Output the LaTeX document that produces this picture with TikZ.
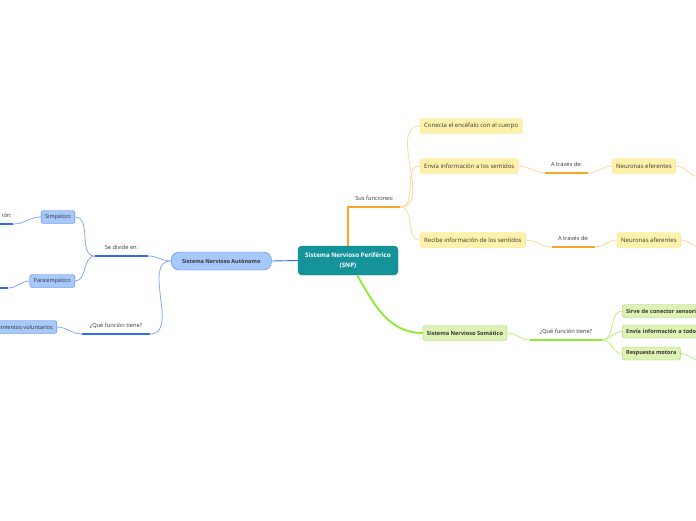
\documentclass[tikz,border=0pt]{standalone}
\usepackage{fontspec}
\setmainfont{Open Sans}
\usepackage{xcolor}
\usetikzlibrary{positioning,calc}

\definecolor{teal1}{HTML}{15939B}
\definecolor{teal2}{HTML}{0E7E86}
\definecolor{ylwf}{HTML}{FEF2AA}
\definecolor{ylwd}{HTML}{F7E08C}
\definecolor{orgk}{HTML}{F6A52A}
\definecolor{orgn}{HTML}{FCD69C}
\definecolor{bluf}{HTML}{A6C8FA}
\definecolor{blud}{HTML}{4F80E2}
\definecolor{bluk}{HTML}{2F6CF0}
\definecolor{blun}{HTML}{86A8F2}
\definecolor{grnf}{HTML}{DDF2B3}
\definecolor{grnd}{HTML}{A8D46A}
\definecolor{grnk}{HTML}{8CEB2B}
\definecolor{grnn}{HTML}{B8F07A}

\begin{document}
\begin{tikzpicture}[x=1pt,y=-1pt]
\tikzset{
  root/.style={rectangle,rounded corners=4pt,draw=teal2,fill=teal1,text=white,minimum width=100pt,minimum height=29pt,align=center,font=\fontsize{6.2}{10}\selectfont\bfseries},
  ynode/.style={rectangle,rounded corners=2.5pt,draw=ylwd,fill=ylwf,minimum height=15pt,inner xsep=4pt,font=\fontsize{6}{7}\selectfont,text=black!80},
  bnode/.style={rectangle,rounded corners=2.5pt,draw=blud,fill=bluf,minimum height=13pt,inner xsep=4pt,font=\fontsize{5.6}{6}\selectfont,text=black!80},
  gnode/.style={rectangle,rounded corners=2.5pt,draw=grnd,fill=grnf,minimum height=13pt,inner xsep=4pt,font=\fontsize{5.5}{6}\selectfont\bfseries,text=black!80},
  lbl/.style={anchor=south,inner xsep=0pt,inner ysep=5pt,text height=4pt,text depth=1pt,font=\fontsize{5.7}{6}\selectfont,text=black!80},
  othk/.style={draw=orgk,line width=1.8pt},
  othn/.style={draw=orgn,line width=0.8pt},
  bthk/.style={draw=bluk,line width=1.8pt},
  bthn/.style={draw=blun,line width=0.8pt},
  gthk/.style={draw=grnk,line width=1.8pt},
  gthn/.style={draw=grnn,line width=0.8pt}
}
\useasboundingbox (0,0) rectangle (696,520);
\clip (0,0) rectangle (696,520);

% centre
\node[root] (snp) at (348,260.5) {Sistema Nervioso Periférico\\(SNP)};

% funciones (orange)
\node[lbl,minimum width=51pt] (sf) at (374.5,207) {Sus funciones:};
\node[ynode,anchor=west] (ce) at (420,126) {Conecta el encéfalo con el cuerpo};
\node[ynode,anchor=west] (ei) at (420,166) {Envía información a los sentidos};
\node[ynode,anchor=west] (ri) at (420,240) {Recibe información de los sentidos};
\node[lbl,minimum width=43pt] (at1) at (566.5,173) {A través de:};
\node[lbl,minimum width=43pt] (at2) at (573.5,247) {A través de:};
\node[ynode,anchor=west] (ne) at (612,166) {Neuronas eferentes};
\node[ynode,anchor=west] (na) at (617,240) {Neuronas aferentes};
\coordinate (o1) at (700,177);
\coordinate (o2) at (700,247);

\draw[othk] (snp.north) |- (sf.south east);
\foreach \b in {ce,ei,ri}{\draw[othn] (sf.south east) to[out=0,in=180] (\b.west);}
\draw[othn] (ei.east) to[out=0,in=180] (at1.south west);
\draw[othn] (ri.east) to[out=0,in=180] (at2.south west);
\draw[othk] (at1.south west) -- (at1.south east);
\draw[othk] (at2.south west) -- (at2.south east);
\draw[othn] (at1.south east) to[out=0,in=180] (ne.west);
\draw[othn] (at2.south east) to[out=0,in=180] (na.west);
\draw[othn] (ne.east) to[out=0,in=180] (o1);
\draw[othn] (na.east) to[out=0,in=180] (o2);

% somatico (green)
\node[gnode,minimum height=15pt,font=\fontsize{5.6}{6}\selectfont\bfseries] (som) at (465,333) {Sistema Nervioso Somático};
\node[lbl,minimum width=72pt] (qf2) at (566,340) {¿Qué función tiene?};
\node[gnode,anchor=west,minimum width=110pt,text width=102pt,align=left] (sc) at (622,311) {Sirve de conector sensori};
\node[gnode,anchor=west,minimum width=110pt,text width=102pt,align=left] (eit) at (622,331.5) {Envía información a todo};
\node[gnode,anchor=west] (rm) at (622,353.5) {Respuesta motora};
\coordinate (o3) at (700,360);

\draw[gthk] (snp.-58) to[out=-60,in=180] (som.west);
\draw[gthn] (som.east) to[out=0,in=180] (qf2.south west);
\draw[gthk] (qf2.south west) -- (qf2.south east);
\foreach \b in {sc,eit,rm}{\draw[gthn] (qf2.south east) to[out=0,in=180] (\b.west);}
\draw[gthn] (rm.east) to[out=0,in=180] (o3);

% autonomo (blue)
\node[bnode,anchor=west,minimum height=18pt,rounded corners=8pt,inner xsep=11pt,draw=blud,font=\fontsize{5.5}{6}\selectfont\bfseries] (aut) at (171,261) {Sistema Nervioso Autónomo};
\node[lbl,minimum width=53pt] (sd) at (121.5,256) {Se divide en:};
\node[lbl,minimum width=68pt] (qf1) at (116,334) {¿Qué función tiene?};
\node[bnode,anchor=east] (simp) at (75,217) {Simpático};
\node[bnode,anchor=east] (para) at (75,281) {Parasimpático};
\node[bnode,anchor=east] (mv) at (57,327) {Movimientos voluntarios};
\node[lbl,minimum width=30pt,text width=28pt,align=right] (lf1) at (-2,224) {ión:};
\node[lbl,minimum width=16pt] (lf2) at (0,288) {};

\draw[bluk,line width=0.9pt] (snp.west) -- (aut.east);
\draw[bthn] (aut.west) to[out=180,in=0] (sd.south east);
\draw[bthn] (aut.west) to[out=180,in=0] (qf1.south east);
\draw[bthk] (sd.south west) -- (sd.south east);
\draw[bthk] (qf1.south west) -- (qf1.south east);
\draw[bthn] (sd.south west) to[out=180,in=0] (simp.east);
\draw[bthn] (sd.south west) to[out=180,in=0] (para.east);
\draw[bthn] (qf1.south west) to[out=180,in=0] (mv.east);
\draw[bthn] (simp.west) to[out=180,in=0] (lf1.south east);
\draw[bthn] (para.west) to[out=180,in=0] (lf2.south east);
\draw[bthk] (lf1.south west) -- (lf1.south east);
\draw[bthk] (lf2.south west) -- (lf2.south east);
\end{tikzpicture}
\end{document}
